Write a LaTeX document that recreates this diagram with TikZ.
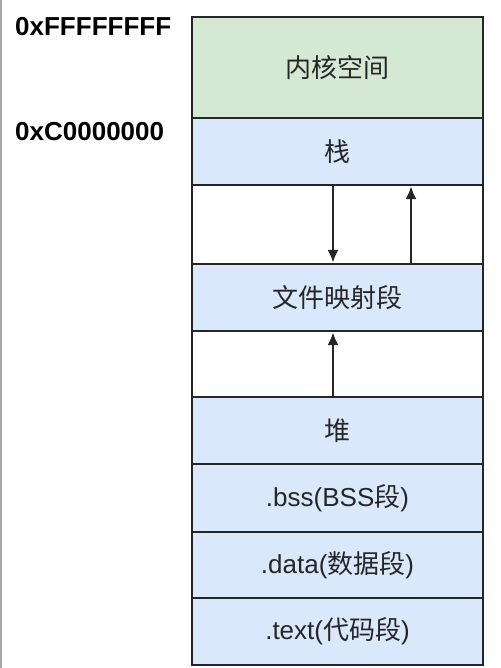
\documentclass[tikz,border=0pt]{standalone}
\usepackage{fontspec}
\setmainfont{Liberation Sans}
\newfontfamily\cjk{Noto Sans CJK SC}
\usetikzlibrary{shapes,arrows.meta}

\definecolor{kernelgreen}{HTML}{D5E8D4}
\definecolor{segblue}{HTML}{DAE8FC}
\definecolor{edgegray}{HTML}{262626}

\tikzset{
  seg/.style={shape=rectangle, draw=edgegray, line width=2.4pt, minimum width=291pt,
    inner sep=0pt, text=edgegray, font=\fontsize{26}{30}\selectfont},
  addr/.style={anchor=west, inner sep=0pt, font=\fontsize{26}{30}\selectfont\bfseries},
  growarrow/.style={draw=edgegray, line width=2.2pt, -{Latex[length=13pt,width=11pt]}}
}

\begin{document}
\begin{tikzpicture}[x=1pt,y=1pt]
\useasboundingbox (0,0) rectangle (500,-668);
\draw [gray!70, line width=1.5pt] (0.75,0) -- (0.75,-668);

\node (kernel) at (337.5,-67.5) [seg, fill=kernelgreen, minimum height=101pt] {{\cjk 内核空间}};
\node (stack) at (337.5,-151.5) [seg, fill=segblue, minimum height=67pt] {{\cjk 栈}};
\node (gapa) at (337.5,-224.5) [seg, fill=white, minimum height=79pt] {};
\node (filemap) at (337.5,-297.5) [seg, fill=segblue, minimum height=67pt] {{\cjk 文件映射段}};
\node (gapb) at (337.5,-364) [seg, fill=white, minimum height=66pt] {};
\node (heap) at (337.5,-430.5) [seg, fill=segblue, minimum height=67pt] {{\cjk 堆}};
\node (bss) at (337.5,-498) [seg, fill=segblue, minimum height=68pt] {.bss(BSS{\cjk 段})};
\node (data) at (337.5,-565) [seg, fill=segblue, minimum height=66pt] {.data({\cjk 数据段})};
\node (text) at (337.5,-631.5) [seg, fill=segblue, minimum height=67pt] {.text({\cjk 代码段})};

\node (top) at (15,-27) [addr] {0xFFFFFFFF};
\node (kbase) at (15,-132) [addr] {0xC0000000};

% stack grows down, mmap grows up, heap grows up
\coordinate (downx) at (333,0);
\coordinate (upx) at (411,0);
\draw [growarrow] (stack.south -| downx) -- (filemap.north -| downx);
\draw [growarrow] (filemap.north -| upx) -- (stack.south -| upx);
\draw [growarrow] (heap.north -| downx) -- (filemap.south -| downx);
\end{tikzpicture}
\end{document}
